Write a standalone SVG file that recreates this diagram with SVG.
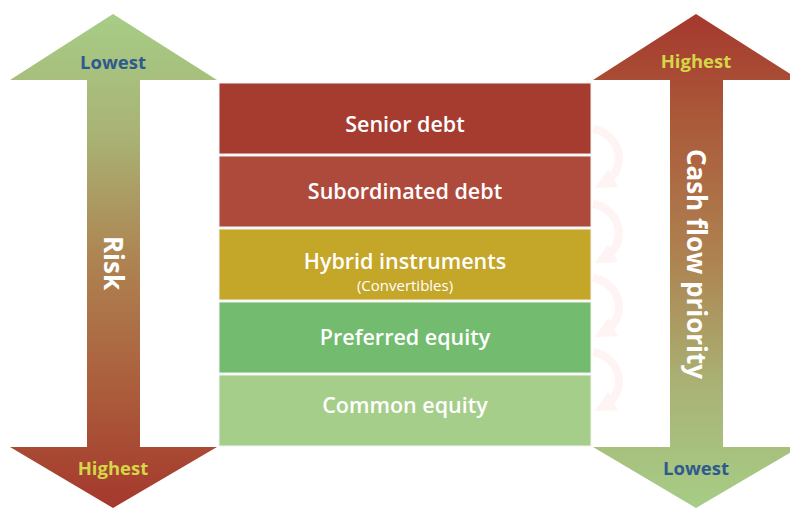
<svg xmlns="http://www.w3.org/2000/svg" width="790" height="509" viewBox="0 0 790 509">
<defs>
<linearGradient id="gUp" gradientUnits="userSpaceOnUse" x1="0" y1="14" x2="0" y2="508">
<stop offset="0" stop-color="#A6CD86"/>
<stop offset="0.25" stop-color="#A9B274"/>
<stop offset="0.5" stop-color="#AE8351"/>
<stop offset="0.78" stop-color="#AB5A3A"/>
<stop offset="1" stop-color="#A5382D"/>
</linearGradient>
<linearGradient id="gDown" gradientUnits="userSpaceOnUse" x1="0" y1="508" x2="0" y2="14">
<stop offset="0" stop-color="#A6CD86"/>
<stop offset="0.25" stop-color="#A9B274"/>
<stop offset="0.5" stop-color="#AE8351"/>
<stop offset="0.78" stop-color="#AB5A3A"/>
<stop offset="1" stop-color="#A5382D"/>
</linearGradient>
<marker id="ah" viewBox="0 0 10 10" refX="5" refY="5" markerWidth="2.6" markerHeight="2.6" orient="auto" markerUnits="strokeWidth">
<path d="M0,0 L10,5 L0,10 z" fill="#FEF4F4"/>
</marker>
</defs>
<style>
.box{stroke:#F2F2F2;stroke-width:1}
.lbl{font-family:"Open Sans","Liberation Sans",sans-serif;font-weight:600;font-size:21.5px;fill:#FFFFFF;text-anchor:middle}
.sub{font-family:"Open Sans","Liberation Sans",sans-serif;font-weight:400;font-size:15px;fill:#FFFFFF;text-anchor:middle}
.end{font-family:"Open Sans","Liberation Sans",sans-serif;font-weight:700;font-size:18.5px;text-anchor:middle}
.blue{fill:#2E5A8E}
.yel{fill:#D5D548}
.vert{font-family:"Open Sans","Liberation Sans",sans-serif;font-weight:700;font-size:26px;fill:#FFFFFF;text-anchor:middle}
.cyc{fill:none;stroke:#FEF4F4;stroke-width:8}
</style>
<g id="risk-arrow">
<polygon points="113,14 217,80 140,80 140,447 217,447 113,508 10,447 87,447 87,80 10,80" fill="url(#gUp)"/>
<text class="end blue" x="113" y="69">Lowest</text>
<text class="end yel" x="113" y="475">Highest</text>
<text class="vert" transform="translate(104,263) rotate(90)">Risk</text>
</g>
<g id="cashflow-arrow">
<polygon points="696,14 800,80 723,80 723,447 800,447 696,508 593,447 670,447 670,80 593,80" fill="url(#gDown)"/>
<text class="end yel" x="696" y="68">Highest</text>
<text class="end blue" x="696" y="475">Lowest</text>
<text class="vert" transform="translate(687,264) rotate(90)">Cash flow priority</text>
</g>
<g id="connectors">
<path class="cyc" d="M593,129 C622,134 628,170 604,183" marker-end="url(#ah)"/>
<path class="cyc" d="M593,204 C622,209 628,245 604,258" marker-end="url(#ah)"/>
<path class="cyc" d="M593,278 C622,283 628,319 604,332" marker-end="url(#ah)"/>
<path class="cyc" d="M593,352 C622,357 628,393 604,406" marker-end="url(#ah)"/>
</g>
<g id="senior-debt">
<rect class="box" x="219" y="83" width="372" height="71" fill="#A63B2F"/>
<text class="lbl" x="405" y="132">Senior debt</text>
</g>
<g id="subordinated-debt">
<rect class="box" x="219" y="156" width="372" height="71" fill="#AE4A3C"/>
<text class="lbl" x="405" y="199">Subordinated debt</text>
</g>
<g id="hybrid-instruments">
<rect class="box" x="219" y="229" width="372" height="71" fill="#C4A628"/>
<text class="lbl" x="405" y="269">Hybrid instruments</text>
<text class="sub" x="405" y="291">(Convertibles)</text>
</g>
<g id="preferred-equity">
<rect class="box" x="219" y="302" width="372" height="71" fill="#72BB6F"/>
<text class="lbl" x="405" y="345">Preferred equity</text>
</g>
<g id="common-equity">
<rect class="box" x="219" y="375" width="372" height="71" fill="#A5CE8A"/>
<text class="lbl" x="405" y="413">Common equity</text>
</g>
</svg>
